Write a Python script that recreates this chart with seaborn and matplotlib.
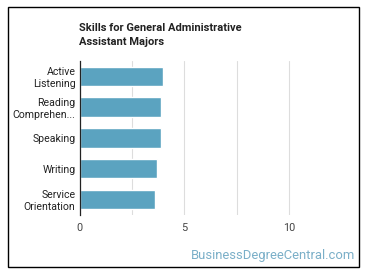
import matplotlib
matplotlib.use("Agg")
import matplotlib.pyplot as plt
import seaborn as sns
import pandas as pd
from matplotlib.patches import Rectangle

skills = ["Active\nListening", "Reading\nComprehen...", "Speaking", "Writing", "Service\nOrientation"]
values = [4.0, 3.9, 3.9, 3.7, 3.6]
xticks = [0, 5, 10]

sns.set_theme(style="white")
plt.rcParams["font.family"] = ["Roboto", "DejaVu Sans"]

df = pd.DataFrame({"skill": skills, "value": values})

fig = plt.figure(figsize=(3.7, 2.78), dpi=100)
ax = fig.add_axes([0.215, 0.227, 0.707, 0.554])

sns.barplot(data=df, x="value", y="skill", color="#5ba3c0", saturation=1,
            width=0.63, ax=ax, orient="h")

ax.set_xlim(0, 12.5)
ax.set_ylim(4.5, -0.5)
ax.set_xticks(xticks)
ax.set_xticklabels([str(t) for t in xticks], color="#444444", fontsize=7.8)
for gx in [2.5, 5, 7.5, 10]:
    ax.axvline(gx, color="#dddddd", lw=0.8, zorder=0)
ax.set_axisbelow(True)
ax.tick_params(axis="y", labelsize=7.6, colors="#222222", length=0, pad=3)
ax.tick_params(axis="x", length=0, pad=6)
for lab in ax.get_yticklabels():
    lab.set_multialignment("right")
    lab.set_linespacing(1.2)
ax.set_xlabel("")
ax.set_ylabel("")
for s in ["top", "right", "bottom"]:
    ax.spines[s].set_visible(False)
ax.spines["left"].set_color("#222222")
ax.spines["left"].set_linewidth(0.9)

fig.text(79 / 370, 1 - 35 / 278, "Skills for General Administrative\nAssistant Majors",
         fontsize=8, fontweight="bold", color="#222222", va="center", ha="left",
         linespacing=1.4)
fig.text(355 / 370, 1 - 255 / 278, "BusinessDegreeCentral.com", fontsize=9.4,
         color="#7aafc8", ha="right", va="center")

fig.patches.append(Rectangle((8 / 370, 1 - 267 / 278), 351 / 370, 260 / 278,
                             transform=fig.transFigure, fill=False,
                             edgecolor="black", lw=1))

fig.savefig("out.png", dpi=100)
